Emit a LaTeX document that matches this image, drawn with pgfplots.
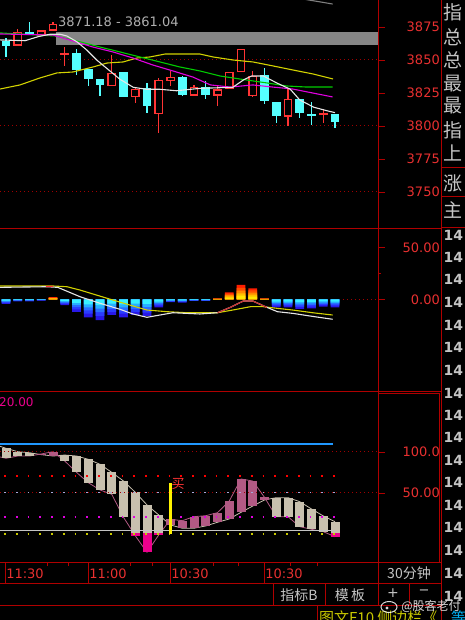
\documentclass[border=0pt]{standalone}
\usepackage{pgfplots}
\pgfplotsset{compat=1.18}
\usepackage{pgfplotstable}
\usepackage{fontspec}
\setmainfont{DejaVu Sans}
\newfontfamily\cjk{Noto Sans CJK SC}

\definecolor{frame}{HTML}{B00000}
\definecolor{lbl}{HTML}{E83030}
\definecolor{upc}{HTML}{FF3434}
\definecolor{dnc}{HTML}{55FFFF}
\definecolor{maw}{HTML}{E6E6E6}
\definecolor{may}{HTML}{D2D200}
\definecolor{mag}{HTML}{00CC00}
\definecolor{mam}{HTML}{E000E0}
\definecolor{barg}{HTML}{858585}
\definecolor{beige}{HTML}{C8C0AE}
\definecolor{mauve}{HTML}{B25A84}
\definecolor{uig}{HTML}{C4C4C4}
\definecolor{dotr}{HTML}{A00000}
\definecolor{lav}{HTML}{A8A8D8}
\definecolor{jblue}{HTML}{2098FF}
\definecolor{txty}{HTML}{C8C800}
\definecolor{n1}{HTML}{2818E8}
\definecolor{n2}{HTML}{2A3CFF}
\definecolor{n3}{HTML}{2A70FF}
\definecolor{n4}{HTML}{28B0FF}
\definecolor{n5}{HTML}{38F0FF}
\definecolor{p1}{HTML}{FF1E00}
\definecolor{p2}{HTML}{FF5000}
\definecolor{p3}{HTML}{FF8A00}
\definecolor{p4}{HTML}{FFBE00}
\definecolor{p5}{HTML}{FFE600}

\pgfplotsset{
  /pgf/number format/assume math mode=true,
  panel/.style={
    scale only axis, width=378pt, anchor=south west,
    xmin=0.489, xmax=32.66,
    axis line style={draw=none},
    xtick=\empty, ytick pos=right,
    tick align=outside, major tick length=7pt, minor tick length=3pt,
    tick style={frame, line width=0.9pt},
    yticklabel style={font=\fontsize{13}{13}\selectfont, text=lbl,
      anchor=east, inner sep=0pt, xshift=55pt},
  },
  vbar/.style 2 args={only marks, mark=text, text mark={},
    error bars/.cd, y dir=both, y explicit, error mark=none,
    error bar style={#1, line width=#2, solid}},
  fine dots/.style={dotr, line width=1pt, dash pattern=on 1.2pt off 2.8pt},
  cand dots/.style={#1, line width=1.7pt, dash pattern=on 1.7pt off 10.05pt},
  hb/.style={ybar, bar width=8.6pt, bar shift=0pt, draw=none, fill=#1},
}

% candles: i open high low close
\pgfplotstableread{
i  o      h      l      c
2  3860.9 3873.5 3860.9 3871.1
4  3868.4 3872.5 3868.4 3872.5
5  3872.2 3878.6 3872.2 3877.3
6  3853.9 3860.1 3845.5 3855.3
10 3830.3 3853.8 3830.3 3840.4
12 3822.0 3829.3 3817.2 3828.0
14 3808.9 3836.6 3794.4 3834.8
15 3834.3 3841.7 3830.3 3837.4
17 3823.0 3830.8 3823.0 3829.8
19 3823.0 3831.0 3815.2 3827.8
20 3827.8 3841.2 3827.8 3841.2
21 3840.8 3858.3 3840.8 3858.3
22 3822.7 3841.7 3821.7 3837.9
25 3807.0 3827.8 3800.2 3820.5
28 3808.3 3812.6 3802.0 3809.7
}\upcandles

\pgfplotstableread{
i  o      h      l      c
1  3864.4 3866.7 3852.3 3860.6
3  3871.0 3878.6 3869.0 3869.0
7  3855.1 3858.3 3838.6 3842.4
8  3843.0 3843.0 3830.3 3835.4
9  3835.6 3835.6 3822.7 3831.3
11 3841.2 3841.2 3821.7 3822.2
13 3828.6 3832.3 3809.6 3815.4
16 3837.4 3838.1 3822.7 3823.5
18 3829.8 3834.1 3820.7 3823.5
23 3838.6 3844.2 3816.4 3819.2
24 3818.4 3818.4 3802.5 3807.8
26 3820.5 3820.5 3805.8 3809.7
27 3808.9 3818.4 3800.8 3807.9
29 3809.1 3809.1 3798.3 3802.8
}\dncandles

% MACD histogram
\pgfplotstableread{
i v
1 -4.5
2 -2.0
3 -2.0
4 -1.3
6 -5.5
7 -12.0
8 -17.3
9 -19.9
10 -15.0
11 -17.3
12 -15.0
13 -16.0
14 -7.7
15 -2.7
16 -3.2
17 -1.6
18 -1.6
24 -7.7
25 -7.7
26 -9.3
27 -8.7
28 -7.0
29 -7.7
}\macdneg

\pgfplotstableread{
i v
5 2.0
19 0.8
20 6.7
21 13.8
22 10.6
23 0.8
}\macdpos

% lower indicator: K (mauve line), D (beige line)
\pgfplotstableread{
i    K     D
0.49 94.0  107.0
1    92.3  104.5
2    95.1  100.4
3    95.1  99.1
4    97.6  96.8
5    100.4 95.1
6    89.0  96.3
7    75.2  95.1
8    62.6  91.1
9    53.7  85.0
10   48.4  75.2
11   20.4  64.6
12   -2.1  50.9
13   -22.3 35.4
14   -1.2  23.2
15   17.9  11.0
16   16.2  7.0
17   21.1  7.0
18   22.3  9.8
19   26.0  14.3
20   40.2  18.3
21   67.1  26.4
22   64.6  34.1
23   44.7  41.5
24   21.1  44.3
25   21.1  44.3
26   8.9   39.4
27   5.7   30.5
28   2.8   22.0
29   -3.3  15.0
}\kd

\pgfplotstableread{
i  lo   hi
1  92.3 104.5
2  95.1 100.4
3  95.1 99.1
6  89.0 96.3
7  75.2 95.1
8  62.6 91.1
9  53.7 85.0
10 48.4 75.2
11 20.4 64.6
12 1.0  50.9
13 1.0  35.4
14 1.0  23.2
24 21.1 44.3
25 21.1 44.3
26 8.9  39.4
27 5.7  30.5
28 2.8  22.0
29 1.0  15.0
}\beigebox

\pgfplotstableread{
i  lo   hi
4  96.8 97.6
5  95.1 100.4
15 11.0 17.9
16 7.0  16.2
17 7.0  21.1
18 9.8  22.3
19 14.3 26.0
20 18.3 40.2
21 26.4 67.1
22 34.1 64.6
23 41.5 44.7
}\mauvebox

\pgfplotstableread{
i  lo    hi
12 -2.1  1.0
13 -22.3 1.0
14 -1.2  1.0
29 -3.3  1.0
}\pinkbox

\begin{document}
\begin{tikzpicture}[x=1pt,y=1pt]
\useasboundingbox (0,0) rectangle (465,620);
\fill[black] (0,0) rectangle (465,620);
\begin{scope}
\clip (0,0) rectangle (465,620);

% ---------------- price panel ----------------
\begin{axis}[panel, at={(0pt,391pt)}, height=229pt,
  ymin=3721.97, ymax=3895.45,
  ytick={3750,3775,3800,3825,3850,3875},
  yticklabels={3750,3775,3800,3825,3850,3875}]
\addplot[fine dots] coordinates {(0.489,3850) (32.66,3850)};
\addplot[fine dots] coordinates {(0.489,3800) (32.66,3800)};
\addplot[fine dots] coordinates {(0.489,3750) (32.66,3750)};
\addplot[fill=barg, draw=none] coordinates
  {(5.26,3861.04) (32.7,3861.04) (32.7,3871.18) (5.26,3871.18)} -- cycle;
% wicks
\addplot[vbar={upc}{1.2pt}] table[x=i, y expr={(\thisrow{h}+\thisrow{l})/2},
  y error expr={(\thisrow{h}-\thisrow{l})/2}] {\upcandles};
\addplot[vbar={dnc}{1.2pt}] table[x=i, y expr={(\thisrow{h}+\thisrow{l})/2},
  y error expr={(\thisrow{h}-\thisrow{l})/2}] {\dncandles};
% bodies
\addplot[vbar={upc}{8.6pt}] table[x=i, y expr={(\thisrow{o}+\thisrow{c})/2},
  y error expr={(\thisrow{c}-\thisrow{o})/2}] {\upcandles};
\addplot[vbar={black}{6.0pt}] table[x=i, y expr={(\thisrow{o}+\thisrow{c})/2},
  y error expr={max((\thisrow{c}-\thisrow{o})/2-1.0,0)}] {\upcandles};
\addplot[vbar={dnc}{8.6pt}] table[x=i, y expr={(\thisrow{o}+\thisrow{c})/2},
  y error expr={(\thisrow{o}-\thisrow{c})/2}] {\dncandles};
% moving averages
\addplot[may, line width=1.1pt] coordinates {(0.49,3828.0) (2.19,3831.1) (3.89,3836.4)
  (5.34,3840.2) (6.70,3840.9) (8.40,3844.7) (9.60,3847.7) (10.96,3848.5) (12.15,3851.5)
  (13.26,3852.3) (14.53,3854.5) (17.51,3854.5) (18.62,3852.3) (20.32,3850.0)
  (22.02,3848.5) (23.72,3845.5) (25.43,3842.4) (27.13,3839.4) (28.83,3835.6)};
\addplot[mag, line width=1.1pt] coordinates {(0.49,3870.5) (5.17,3868.2) (7.04,3864.4)
  (9.0,3859.8) (10.7,3856.1) (12.4,3852.3) (14.1,3848.5) (15.8,3844.7) (17.5,3841.7)
  (19.2,3837.9) (20.9,3835.6) (23.2,3832.6) (24.9,3830.3) (26.6,3829.5) (28.8,3829.5)};
\addplot[mam, line width=1.1pt] coordinates {(0.49,3869.7) (5.0,3868.9) (6.7,3864.4)
  (8.4,3859.8) (10.1,3856.1) (11.8,3851.5) (13.5,3846.2) (15.2,3841.7) (16.9,3837.1)
  (18.4,3831.1) (20.1,3829.5) (22.0,3831.1) (23.7,3829.5) (25.4,3828.0) (27.1,3825.0)
  (28.8,3822.0)};
\addplot[maw, line width=1.1pt] coordinates {(0.49,3865.2) (2.62,3864.6) (3.75,3867.7)
  (4.74,3869.5) (5.6,3869.5) (6.17,3868.2) (7.02,3863.9) (7.87,3857.6) (8.72,3850.0)
  (9.57,3843.7) (10.70,3835.4) (11.83,3829.3) (12.97,3827.8) (14.1,3827.8)
  (15.5,3826.7) (17.5,3828.5) (19.2,3829.0) (20.3,3829.3) (21.2,3834.8) (21.9,3837.9)
  (22.9,3837.9) (24.0,3832.8) (25.2,3827.8) (26.0,3819.7) (27.2,3814.2) (28.3,3811.6)
  (29.0,3810.1)};
\addplot[gray, line width=1.1pt] coordinates {(26.4,3896.0) (28.8,3892.4)};
\end{axis}

% ---------------- MACD panel ----------------
\begin{axis}[panel, at={(0pt,228pt)}, height=163pt,
  ymin=-89.1, ymax=67.6,
  ytick={0,50}, yticklabels={0.00,50.00}, minor ytick={25}]
\addplot[fine dots] coordinates {(29.68,0) (32.66,0)};
\addplot[hb=n1] table[x=i, y=v] {\macdneg};
\addplot[hb=n2] table[x=i, y expr=0.8*\thisrow{v}] {\macdneg};
\addplot[hb=n3] table[x=i, y expr=0.62*\thisrow{v}] {\macdneg};
\addplot[hb=n4] table[x=i, y expr=0.45*\thisrow{v}] {\macdneg};
\addplot[hb=n5] table[x=i, y expr=0.28*\thisrow{v}] {\macdneg};
\addplot[hb=p1] table[x=i, y=v] {\macdpos};
\addplot[hb=p2] table[x=i, y expr=0.8*\thisrow{v}] {\macdpos};
\addplot[hb=p3] table[x=i, y expr=0.6*\thisrow{v}] {\macdpos};
\addplot[hb=p4] table[x=i, y expr=0.42*\thisrow{v}] {\macdpos};
\addplot[hb=p5] table[x=i, y expr=0.25*\thisrow{v}] {\macdpos};
% DEA
\addplot[may, line width=1.1pt] coordinates {(0.49,12.8) (5.0,12.8) (6.19,12.1) (7.3,8.9)
  (9.6,1.0) (11.8,-6.4) (13.0,-10.3) (14.7,-11.9) (16.4,-12.9) (19.0,-12.9)
  (20.3,-10.3) (21.8,-7.1) (22.9,-7.1) (24.1,-8.7) (25.4,-10.3) (27.1,-12.9)
  (28.8,-15.1)};
% DIF
\addplot[maw, line width=1.1pt] coordinates {(0.49,11.5) (4.5,12.1) (5.4,11.5) (7.3,2.5)
  (9.0,-3.8) (10.7,-9.6) (11.8,-14.1) (13.0,-17.3) (14.1,-15.1) (15.2,-12.9)
  (17.5,-14.1) (19.0,-12.9) (20.1,-7.7) (21.2,-1.6) (22.0,-1.6) (23.2,-7.7)
  (24.1,-11.9) (25.4,-13.5) (26.9,-16.1) (28.8,-19.2)};
\addplot[upc!80!black, line width=1.1pt] coordinates {(19.0,-12.9) (20.1,-7.7)
  (21.2,-1.6) (22.0,-1.6) (23.2,-7.7)};
\addplot[upc, line width=1.1pt] coordinates {(4.4,12.3) (5.0,12.4)};
\end{axis}

% ---------------- lower indicator panel ----------------
\begin{axis}[panel, at={(0pt,57pt)}, height=171pt,
  ymin=-35.4, ymax=173.2,
  ytick={50,100}, yticklabels={50.00,100.0}]
\addplot[beige, line width=0.8pt] table[x=i, y=D] {\kd};
\addplot[mauve, line width=0.8pt] table[x=i, y=K] {\kd};
\addplot[vbar={beige}{9pt}] table[x=i, y expr={(\thisrow{lo}+\thisrow{hi})/2},
  y error expr={(\thisrow{hi}-\thisrow{lo})/2}] {\beigebox};
\addplot[vbar={mauve}{9pt}] table[x=i, y expr={(\thisrow{lo}+\thisrow{hi})/2},
  y error expr={(\thisrow{hi}-\thisrow{lo})/2}] {\mauvebox};
\addplot[vbar={magenta}{9pt}] table[x=i, y expr={(\thisrow{lo}+\thisrow{hi})/2},
  y error expr={(\thisrow{hi}-\thisrow{lo})/2}] {\pinkbox};
\addplot[jblue, line width=1.3pt] coordinates {(0.489,109.8) (28.8,109.8)};
\addplot[fine dots] coordinates {(0.489,100.4) (32.66,100.4)};
\addplot[fine dots] coordinates {(0.489,50.6) (32.66,50.6)};
\addplot[cand dots=red] coordinates {(0.85,71.0) (29.2,71.0)};
\addplot[cand dots=lav] coordinates {(0.85,50.6) (29.2,50.6)};
\addplot[cand dots=mam] coordinates {(0.85,20.4) (29.2,20.4)};
\addplot[uig, line width=1.2pt] coordinates {(0.489,4.6) (28.8,4.6)};
\addplot[cand dots=txty] coordinates {(0.85,-0.4) (29.2,-0.4)};
\addplot[yellow, line width=2.2pt] coordinates {(15.0,-0.4) (15.0,62.2)};
\end{axis}

% ---------------- frame ----------------
\begin{scope}[frame, line width=1pt]
\draw (378,620) -- (378,14);
\draw (441.5,620) -- (441.5,0);
\draw (0,391) -- (441.5,391);
\draw (0,228) -- (441.5,228);
\draw (0,57) -- (441.5,57);
\draw (0,36) -- (441.5,36);
\draw (0,14) -- (441.5,14);
\draw (378.5,226.5) rectangle (439.5,57);
\foreach \x in {5,88,170,264} \draw (\x,57) -- (\x,36);
\foreach \x in {273,325,409} \draw (\x,36) -- (\x,14);
\draw (317,14) -- (317,0);
\draw (441.5,452) -- (465,452);
\draw (441.5,423) -- (465,423);
\draw (441.5,392) -- (465,392);
\foreach \x in {47,68,130,152,213,238,290,317} \draw (\x,57) -- (\x,53.5);
\end{scope}

% ---------------- texts ----------------
\node[anchor=west, inner sep=0pt, text={rgb,255:red,175;green,175;blue,175},
  font=\fontsize{13}{13}\selectfont] at (58,598) {3871.18 - 3861.04};
\node[anchor=west, inner sep=0pt, text=magenta, font=\fontsize{12}{12}\selectfont]
  at (-1,218) {20.00};
\node[text=upc, inner sep=0pt, font=\cjk\fontsize{13}{13}\selectfont] at (178,136) {买};

\foreach \c/\yy in {指/608, 总/583, 总/560, 最/536, 最/514, 指/490, 上/467, 涨/437, 主/410}
  \node[anchor=west, inner sep=0pt, text=uig, font=\cjk\fontsize{19}{19}\selectfont]
    at (443,\yy) {\c};
\foreach \yy in {235,257,279,302,325,347,370,393,415,437,460,482,505,527,550,573,596}
  \node[anchor=west, inner sep=0pt, text=uig,
    font=\bfseries\fontsize{14}{14}\selectfont] at (443.5,620-\yy) {14};

\foreach \x/\t in {25/11:30, 108/11:00, 190/10:30, 284/10:30}
  \node[text=lbl, inner sep=0pt, font=\fontsize{13}{13}\selectfont] at (\x,46) {\t};
\node[text=uig, inner sep=0pt, font=\cjk\fontsize{14}{14}\selectfont] at (409,47) {30分钟};
\node[text=uig, inner sep=0pt, font=\cjk\fontsize{14}{14}\selectfont] at (299,25) {指标B};
\node[text=uig, inner sep=0pt, font=\cjk\fontsize{14}{14}\selectfont] at (350,25) {模\,板};
\node[text=uig, inner sep=0pt, font=\fontsize{14}{14}\selectfont] at (393,27) {+};
\node[text=uig, inner sep=0pt, font=\fontsize{13}{13}\selectfont] at (424,28) {−};
\node[anchor=base west, inner sep=0pt, text=txty, font=\cjk\fontsize{15}{15}\selectfont]
  at (319,-3) {图文F10 侧边栏《};
\node[anchor=base west, inner sep=0pt, text=cyan, font=\cjk\fontsize{15}{15}\selectfont]
  at (451,-3) {等};
% watermark
\draw[white, opacity=0.85, line width=1pt] (389,13) ellipse (8pt and 5.5pt);
\fill[white, opacity=0.85] (387,12) circle (1.6pt);
\node[text=white, opacity=0.85, inner sep=0pt, font=\cjk\fontsize{12}{12}\selectfont]
  at (431,13.5) {@股客老付};
\end{scope}
\end{tikzpicture}
\end{document}
